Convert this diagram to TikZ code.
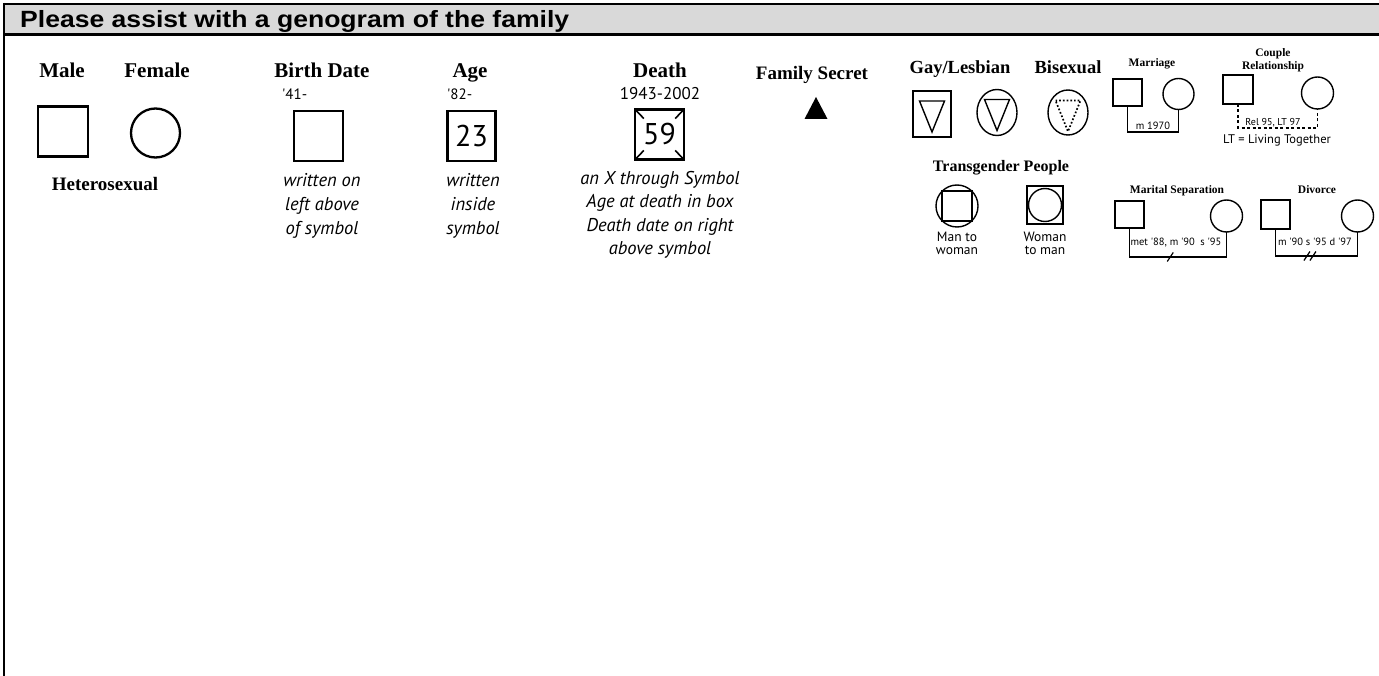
\documentclass[tikz,border=0pt]{standalone}
\usepackage{fontspec}
\setmainfont{Liberation Serif}
\newfontfamily\headfont{Liberation Sans}
\newfontfamily\notefont{PT Sans}
\usetikzlibrary{positioning,calc,shapes.geometric}
\definecolor{band}{RGB}{217,217,217}

\begin{document}
\begin{tikzpicture}[x=1pt,y=-1pt,
  title/.style={font=\bfseries\fontsize{21}{21}\selectfont,inner sep=0pt,anchor=base},
  minititle/.style={font=\bfseries\fontsize{11.5}{12.5}\selectfont,inner sep=0pt,anchor=base,align=center},
  note/.style={font=\notefont\itshape\fontsize{18.5}{24}\selectfont,inner sep=0pt,anchor=base,align=center},
  date/.style={font=\notefont\fontsize{16}{16}\selectfont,inner sep=0pt,anchor=base},
  tiny/.style={font=\notefont\fontsize{10.5}{10.5}\selectfont,inner sep=0pt,anchor=base},
  bigsq/.style={draw,rectangle,minimum width=50,minimum height=50,line width=2.3pt,inner sep=0pt,outer sep=0pt},
  bigci/.style={draw,circle,minimum size=49,line width=2.3pt,inner sep=0pt,outer sep=0pt},
  sq/.style={draw,rectangle,line width=1.4pt,inner sep=0pt,outer sep=0pt},
  ci/.style={draw,circle,line width=1.4pt,inner sep=0pt,outer sep=0pt},
  link/.style={line width=1.4pt}]
  \useasboundingbox (0,0) rectangle (1379,676);
  % Rubrik
  \fill[band] (4,4) rectangle (1379,35);
  \draw[line width=2.7pt] (4,4) -- (1379,4);
  \draw[line width=3pt] (4,35) -- (1379,35);
  \draw[line width=2.7pt] (4,3) -- (4,676);
  \node[anchor=base west,inner sep=0pt,xscale=1.13,transform shape,font=\headfont\bfseries\fontsize{23.5}{23.5}\selectfont] (head) at (20,28) {Please assist with a genogram of the family};

  % Male / Female
  \node[title] (maletxt) at (62,78) {Male};
  \node[title] (femtxt) at (157,78) {Female};
  \node[bigsq] (male) at (63,131.5) {};
  \node[bigci] (female) at (155.5,133) {};
  \node[title,font=\bfseries\fontsize{19}{19}\selectfont] (hetero) at (105,191) {Heterosexual};

  % Birth date
  \node[title] (birthtxt) at (322,78) {Birth Date};
  \node[date,anchor=base west,font=\notefont\fontsize{15}{15}\selectfont] (birthyr) at (282,100) {'41-};
  \node[bigsq,minimum width=49] (birth) at (318.5,136) {};
  \node[note] (birthnote) at (322,235) {written on\\left above\\of symbol};

  % Age
  \node[title] (agetxt) at (470,78) {Age};
  \node[date,anchor=base west,font=\notefont\fontsize{15}{15}\selectfont] (ageyr) at (447,100) {'82-};
  \node[bigsq,minimum width=48,font=\notefont\fontsize{30}{30}\selectfont] (age) at (471.5,136) {23};
  \node[note] (agenote) at (473,235) {written\\inside\\symbol};

  % Death
  \node[title] (deathtxt) at (660,78) {Death};
  \node[date,font=\notefont\fontsize{17}{17}\selectfont] (deathyr) at (660,100) {1943-2002};
  \node[bigsq,minimum width=49,font=\notefont\fontsize{30}{30}\selectfont] (death) at (659.5,134.5) {59};
  \foreach \c in {north west,north east,south west,south east}
    \draw[line width=1.6pt] (death.\c) -- ($(death.\c)!0.36!(death.center)$);
  \node[note,font=\notefont\itshape\fontsize{18.5}{23.5}\selectfont] (deathnote) at (660,255) {an X through Symbol\\Age at death in box\\Death date on right\\above symbol};

  % Family secret
  \node[title,font=\bfseries\fontsize{19}{19}\selectfont] (secrettxt) at (812,80) {Family Secret};
  \coordinate (secret) at (816,108);
  \fill ($(secret)+(0,-11)$) -- ($(secret)+(11.5,11)$) -- ($(secret)+(-11.5,11)$) -- cycle;

  % Gay / Bisexual
  \node[title,font=\bfseries\fontsize{18.5}{18.5}\selectfont] (gaytxt) at (960,74) {Gay/Lesbian};
  \node[title,font=\bfseries\fontsize{18.5}{18.5}\selectfont] (bitxt) at (1068,74) {Bisexual};
  \node[sq,minimum width=38,minimum height=46] (gaym) at (932,114) {};
  \node[draw,ellipse,line width=1.4pt,minimum width=40,minimum height=46,inner sep=0pt] (gayf) at (997,112.5) {};
  \node[draw,ellipse,line width=1.4pt,minimum width=40,minimum height=45,inner sep=0pt] (bi) at (1068,112.5) {};
  \foreach \n in {gaym,gayf}
    \draw[line width=1.4pt,line join=miter] ($(\n)+(-12.5,-13)$) -- ($(\n)+(12.5,-13)$) -- ($(\n)+(0,18)$) -- cycle;
  \draw[line width=1.7pt,dotted] ($(bi)+(-12.5,-12)$) -- ($(bi)+(12.5,-12)$) -- ($(bi)+(0,19)$) -- cycle;

  % Transgender
  \node[title,font=\bfseries\fontsize{16}{16}\selectfont] (transtxt) at (1001,172) {Transgender People};
  \node[ci,minimum size=42] (mtw) at (957,206) {};
  \node[sq,minimum size=30] (mtwin) at (957,206) {};
  \node[sq,minimum width=36,minimum height=38] (wtm) at (1045,205) {};
  \node[ci,minimum size=33] (wtmin) at (1045,205) {};
  \node[note,font=\notefont\fontsize{13.5}{13}\selectfont] (mtwtxt) at (957,255) {Man to\\woman};
  \node[note,font=\notefont\fontsize{13.5}{13}\selectfont] (wtmtxt) at (1045,255) {Woman\\to man};

  % Marriage
  \node[minititle] (martxt) at (1152,67) {Marriage};
  \node[sq,minimum width=29,minimum height=27] (marm) at (1127.5,92.5) {};
  \node[ci,minimum size=31] (marf) at (1178.5,94) {};
  \draw[link] (marm.south) -- ++(0,26) -| (marf.south);
  \node[tiny] (martag) at (1153,130) {m 1970};

  % Couple relationship
  \node[minititle] (coutxt) at (1273,69.5) {Couple\\Relationship};
  \node[sq,minimum width=30,minimum height=29] (coum) at (1238,89.5) {};
  \node[ci,minimum size=32] (couf) at (1317.5,93) {};
  \draw[link,dashed,dash pattern=on 3pt off 2.5pt] (coum.south) -- ++(0,24) -| (couf.south);
  \node[tiny,font=\notefont\fontsize{10}{10}\selectfont] (coutag) at (1273,125.5) {Rel 95, LT 97};
  \node[tiny,font=\notefont\fontsize{12.5}{12.5}\selectfont] (ltnote) at (1277,144) {LT = Living Together};

  % Marital separation
  \node[minititle] (septxt) at (1177,194) {Marital Separation};
  \node[sq,minimum width=29,minimum height=27] (sepm) at (1129.5,214.5) {};
  \node[ci,minimum size=32] (sepf) at (1226.5,216) {};
  \draw[link] (sepm.south) -- ++(0,29) -| (sepf.south) coordinate[pos=0.21] (sepmid);
  \draw[line width=1.2pt] ($(sepmid)+(-3,4.5)$) -- ($(sepmid)+(3,-4.5)$);
  \node[tiny] (septag) at (1176,246) {met '88, m '90\ \ s '95};

  % Divorce
  \node[minititle] (divtxt) at (1317,194) {Divorce};
  \node[sq,minimum width=29,minimum height=29] (divm) at (1275.5,214.5) {};
  \node[ci,minimum size=32] (divf) at (1357.5,216) {};
  \draw[link] (divm.south) -- ++(0,27) -| (divf.south) coordinate[pos=0.21] (divmid);
  \foreach \d in {-3,3}
    \draw[line width=1.2pt] ($(divmid)+(\d-3,4.5)$) -- ($(divmid)+(\d+3,-4.5)$);
  \node[tiny] (divtag) at (1315,246) {m '90 s '95 d '97};
\end{tikzpicture}
\end{document}
